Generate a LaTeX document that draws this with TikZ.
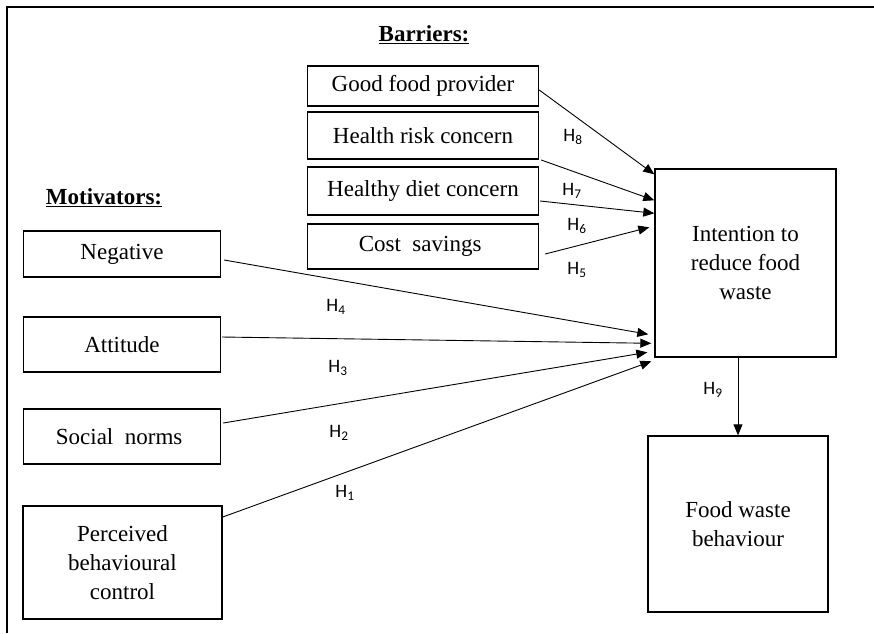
\documentclass[tikz,border=0pt]{standalone}
\usepackage{fontspec}
\setmainfont{Liberation Serif}
\newfontfamily\hfont{Carlito}
\usetikzlibrary{arrows.meta}
\tikzset{
  box/.style={draw, line width=1.4pt, inner sep=0pt, align=center, font=\fontsize{23}{29}\selectfont},
  arr/.style={-{Triangle[length=11pt,width=9pt]}, line width=0.9pt},
  hlab/.style={font=\hfont\fontsize{19}{22}\selectfont, inner sep=0pt},
  title/.style={font=\fontsize{23}{29}\selectfont\bfseries}
}
\begin{document}
\begin{tikzpicture}[x=1pt, y=-1pt]
    \useasboundingbox (0,0) rectangle (874,633);
    % Marco
    \draw[line width=1.5pt] (7,633) -- (7,7) -- (874,7);

    % Barriers
    \node[title] (bar) at (424,35) {\underline{Barriers:}};
    \foreach \id/\y/\h/\txt in {
        gfp/86/40/Good food provider,
        hrc/135.5/47/Health risk concern,
        hdc/191/48/Healthy diet concern,
        cs/246.5/45/Cost\ \ savings
        } {
        \node[box, minimum width=231pt, minimum height=\h pt] (\id) at (423,\y) {\txt};
    }

    % Motivators
    \node[title] (mot) at (104,198) {\underline{Motivators:}};
    \foreach \id/\y/\h/\txt in {
        neg/254/46/Negative,
        att/344.5/55/Attitude,
        soc/436.5/55/Social\ \ norms
        } {
        \node[box, minimum width=197pt, minimum height=\h pt] (\id) at (122,\y) {\txt};
    }
    \node[box, minimum width=199pt, minimum height=113pt] (pbc) at (122.5,562.5) {Perceived\\behavioural\\control};

    % Intention y comportamiento
    \node[box, minimum width=181pt, minimum height=188pt] (int) at (745.5,263) {Intention to\\reduce food\\waste};
    \node[box, minimum width=180pt, minimum height=176pt] (fwb) at (738,524) {Food waste\\behaviour};

    % Flechas
    \foreach \src/\sx/\sy/\tx/\ty in {
        gfp/0/4/0/6,
        hrc/2/24.5/0/32,
        hdc/1/10/0/45,
        cs/6/7.5/-5/59,
        neg/3/6/-6/166,
        att/1/-7.5/-3/175,
        soc/2/-13.5/-7/184,
        pbc/0/-45.5/-3/193
        } {
        \draw[arr] ([shift={(\sx,\sy)}]\src.east) -- ([shift={(\tx,\ty)}]int.north west);
    }
    \draw[arr] (int.south -| fwb.north) -- (fwb.north);

    % Hipotesis
    \foreach \i/\x/\y in {1/345/493, 2/339/433, 3/338/368, 4/336/307, 5/577/270, 6/577/226, 7/572/191, 8/573/137, 9/713/390} {
        \node[hlab] (h\i) at (\x,\y) {H\textsubscript{\i}};
    }
\end{tikzpicture}
\end{document}
